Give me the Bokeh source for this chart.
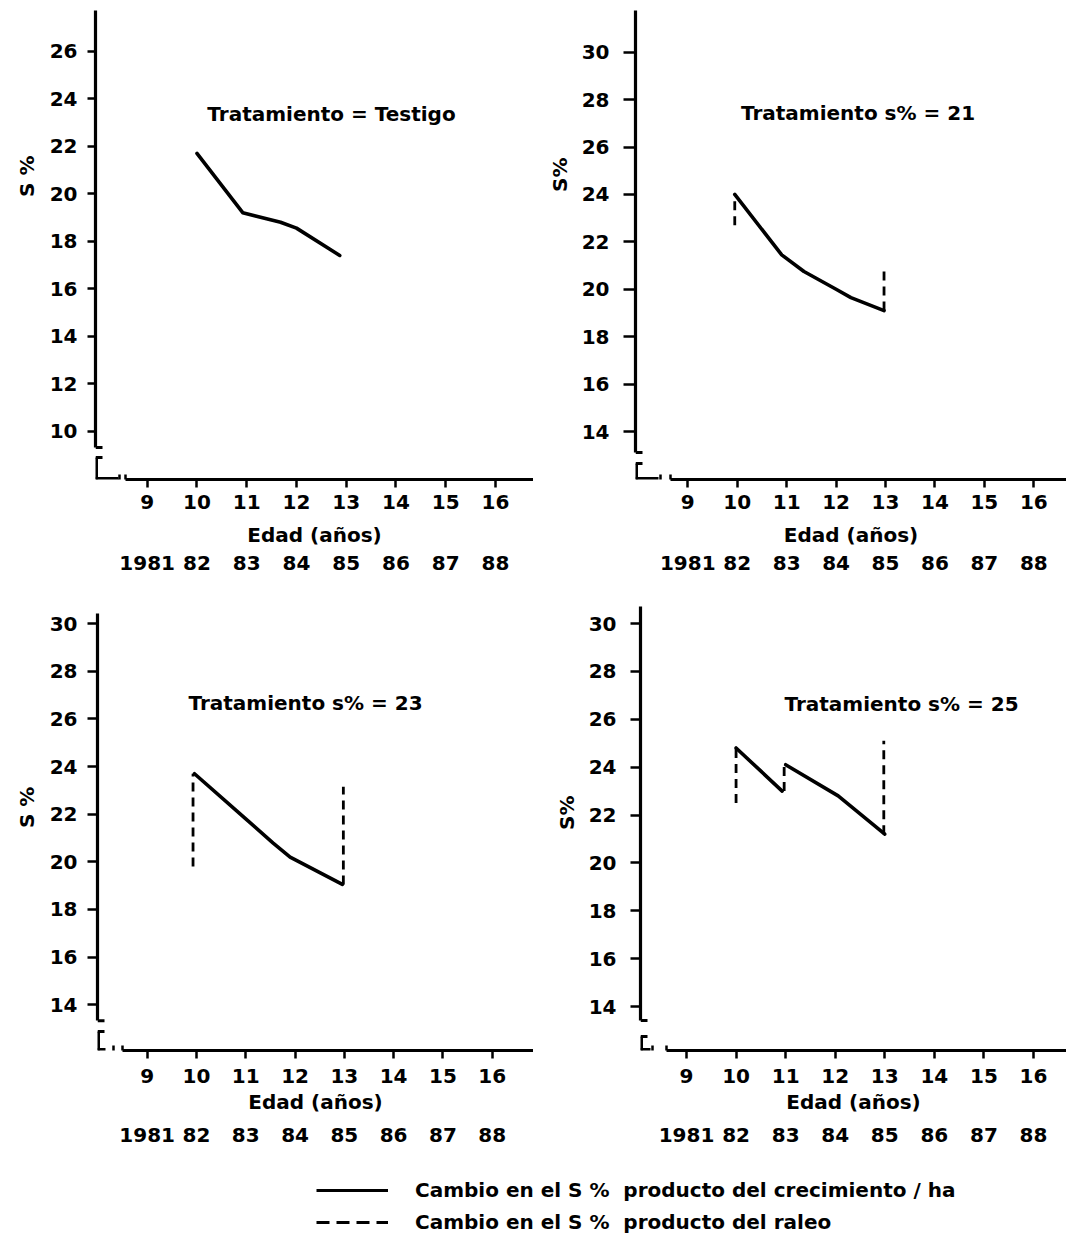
import math
from bokeh.plotting import figure
from bokeh.layouts import column, row
from bokeh.models import Range1d, FixedTicker, LinearAxis, Label, Arrow, Legend, LegendItem
from bokeh.embed import file_html
from bokeh.resources import INLINE

# ---------------- data ----------------
ages = [9, 10, 11, 12, 13, 14, 15, 16]
years = ["1981", "82", "83", "84", "85", "86", "87", "88"]
yticks_testigo = [10, 12, 14, 16, 18, 20, 22, 24, 26]
yticks_raleo = [14, 16, 18, 20, 22, 24, 26, 28, 30]

titles = ["Tratamiento = Testigo", "Tratamiento  s% = 21",
          "Tratamiento s% = 23", "Tratamiento s% = 25"]
ylabels = ["S %", "S%", "S %", "S%"]
x_label = "Edad (años)"

# Testigo: growth only
testigo_grow_x = [[10.0, 10.92, 11.68, 12.0, 12.87]]
testigo_grow_y = [[21.7, 19.2, 18.8, 18.55, 17.4]]
testigo_thin_x = []
testigo_thin_lo = []
testigo_thin_hi = []

# s% = 21
s21_grow_x = [[9.95, 10.9, 11.35, 12.0, 12.3, 12.97]]
s21_grow_y = [[24.0, 21.45, 20.75, 20.0, 19.65, 19.1]]
s21_thin_x = [9.95, 12.97]
s21_thin_lo = [22.7, 19.1]
s21_thin_hi = [24.0, 21.0]

# s% = 23
s23_grow_x = [[9.96, 11.0, 11.55, 11.9, 12.96]]
s23_grow_y = [[23.7, 21.8, 20.8, 20.2, 19.05]]
s23_thin_x = [9.93, 12.98]
s23_thin_lo = [19.8, 19.05]
s23_thin_hi = [23.7, 23.15]

# s% = 25
s25_grow_x = [[10.0, 10.93], [11.0, 12.06, 13.0]]
s25_grow_y = [[24.8, 23.0], [24.1, 22.8, 21.2]]
s25_thin_x = [10.0, 10.97, 12.98]
s25_thin_lo = [22.5, 23.0, 21.2]
s25_thin_hi = [24.8, 24.1, 25.1]

legend_labels = ["Cambio en el S %  producto del crecimiento / ha",
                 "Cambio en el S %  producto del raleo"]

# ---------------- styling / geometry ----------------
FONT = "DejaVu Sans"
BLACK = "black"

geo = [
    dict(W=533, H=590, L=95, T=8, B=479, x9=146.7, x16=495.0, yhi=(26, 50.7), ylo=(10, 430.7),
         ytop=2, ybot=32, tbar=22, llen=23, tick1=24, xstart=30,
         ytick_out=8, ystand=10, xs=7, als=11, s2=6, ylab_stand=19,
         title=(331, 113), ylab_y=155),
    dict(W=533, H=590, L=102, T=8, B=479, x9=154.3, x16=500.3, yhi=(30, 51.7), ylo=(14, 431.0),
         ytop=2, ybot=27, tbar=16, llen=23, tick1=25, xstart=35,
         ytick_out=12, ystand=14, xs=7, als=11, s2=6, ylab_stand=18,
         title=(328, 112), ylab_y=157),
    dict(W=533, H=570, L=97, T=15, B=462, x9=146.7, x16=491.7, yhi=(30, 33.3), ylo=(14, 416.0),
         ytop=8, ybot=30, tbar=19, llen=8, tick1=16, xstart=25,
         ytick_out=10, ystand=10, xs=10, als=4, s2=11, ylab_stand=19,
         title=(305, 113), ylab_y=197),
    dict(W=533, H=570, L=107, T=15, B=460, x9=153.0, x16=500.0, yhi=(30, 33.0), ylo=(14, 416.0),
         ytop=1, ybot=30, tbar=14, llen=10, tick1=12, xstart=26,
         ytick_out=10, ystand=14, xs=10, als=4, s2=11, ylab_stand=18,
         title=(368, 113), ylab_y=205),
]


def make_panel(g, yticks, title, ylabel, grow_x, grow_y, thin_x, thin_lo, thin_hi):
    W, H, L, T, B = g["W"], g["H"], g["L"], g["T"], g["B"]
    R = W
    xppu = (g["x16"] - g["x9"]) / 7.0
    x0 = 9 + (L - g["x9"]) / xppu
    x1 = 9 + (R - g["x9"]) / xppu
    (vhi, phi), (vlo, plo) = g["yhi"], g["ylo"]
    yppu = (plo - phi) / (vhi - vlo)
    y1 = vhi + (phi - T) / yppu
    y0 = vlo - (B - plo) / yppu

    def fx(px):
        return x0 + (px - L) / xppu

    def fy(py):
        return y1 - (py - T) / yppu

    p = figure(width=W, height=H, x_range=Range1d(x0, x1), y_range=Range1d(y0, y1),
               toolbar_location=None, output_backend="svg",
               min_border_left=L, min_border_right=0, min_border_top=T,
               min_border_bottom=H - B, outline_line_color=None)
    p.grid.visible = False

    xa = p.xaxis[0]
    xa.ticker = FixedTicker(ticks=ages)
    xa.bounds = (fx(L + g["xstart"]), x1)
    xa.axis_line_width = 3.2
    xa.major_tick_line_width = 2.5
    xa.major_tick_out = 8
    xa.major_tick_in = 0
    xa.minor_tick_line_color = None
    xa.major_label_standoff = g["xs"]
    xa.major_label_text_font = FONT
    xa.major_label_text_font_style = "bold"
    xa.major_label_text_font_size = "20px"
    xa.major_label_text_color = BLACK
    xa.axis_label = x_label
    xa.axis_label_standoff = g["als"]
    xa.axis_label_text_font = FONT
    xa.axis_label_text_font_style = "bold"
    xa.axis_label_text_font_size = "20px"
    xa.axis_label_text_color = BLACK

    ya = p.yaxis[0]
    ya.ticker = FixedTicker(ticks=yticks)
    ya.bounds = (fy(B - g["ybot"]), fy(T + g["ytop"]))
    ya.axis_line_width = 3.2
    ya.major_tick_line_width = 2.5
    ya.major_tick_out = g["ytick_out"]
    ya.major_tick_in = 0
    ya.minor_tick_line_color = None
    ya.major_label_standoff = g["ystand"]
    ya.major_label_text_font = FONT
    ya.major_label_text_font_style = "bold"
    ya.major_label_text_font_size = "20px"
    ya.major_label_text_color = BLACK

    # second bottom axis: calendar years
    yr_axis = LinearAxis(ticker=FixedTicker(ticks=ages),
                         major_label_overrides={a: y for a, y in zip(ages, years)},
                         axis_line_color=None, major_tick_line_color=None,
                         minor_tick_line_color=None, major_tick_out=0, major_tick_in=0,
                         major_label_standoff=g["s2"],
                         major_label_text_font=FONT, major_label_text_font_style="bold",
                         major_label_text_font_size="20px", major_label_text_color=BLACK)
    p.add_layout(yr_axis, "below")

    # second left axis: carries the rotated "S %" label at the wanted height
    ylab_val = round(fy(g["ylab_y"]), 4)
    lab_axis = LinearAxis(ticker=FixedTicker(ticks=[ylab_val]),
                          major_label_overrides={ylab_val: ylabel},
                          major_label_orientation=math.pi / 2,
                          axis_line_color=None, major_tick_line_color=None,
                          minor_tick_line_color=None, major_tick_out=0, major_tick_in=0,
                          major_label_standoff=g["ylab_stand"],
                          major_label_text_font=FONT, major_label_text_font_style="bold",
                          major_label_text_font_size="20px", major_label_text_color=BLACK)
    p.add_layout(lab_axis, "left")

    # axis break decorations
    def seg(xa_, ya_, xb_, yb_, w=3):
        p.add_layout(Arrow(start=None, end=None, x_start=xa_, y_start=ya_, x_end=xb_, y_end=yb_,
                           line_width=w, line_color=BLACK))

    ybot = B - g["ybot"]
    tbar = B - g["tbar"]
    seg(fx(L), fy(ybot), fx(L + 7), fy(ybot))
    seg(fx(L), fy(tbar), fx(L + 7), fy(tbar))
    seg(fx(L + 1), fy(tbar), fx(L + 1), fy(B))
    seg(fx(L), fy(B - 1), fx(L + g["llen"]), fy(B - 1))
    seg(fx(L + g["tick1"]), fy(B - 5), fx(L + g["tick1"]), fy(B + 5), 2.5)
    seg(fx(L + g["xstart"]), fy(B - 5), fx(L + g["xstart"]), fy(B + 5), 2.5)

    # data
    p.multi_line(xs=grow_x, ys=grow_y, line_color=BLACK, line_width=3.6,
                 line_join="round", line_cap="round")
    if thin_x:
        p.segment(x0=thin_x, y0=thin_lo, x1=thin_x, y1=thin_hi, line_color=BLACK,
                  line_width=2.8, line_dash="9 6")

    p.add_layout(Label(x=fx(g["title"][0]), y=fy(g["title"][1]), text=title,
                       text_align="center", text_baseline="middle", text_font=FONT,
                       text_font_style="bold", text_font_size="20px", text_color=BLACK))
    return p


p1 = make_panel(geo[0], yticks_testigo, titles[0], ylabels[0], testigo_grow_x, testigo_grow_y,
                testigo_thin_x, testigo_thin_lo, testigo_thin_hi)
p2 = make_panel(geo[1], yticks_raleo, titles[1], ylabels[1], s21_grow_x, s21_grow_y,
                s21_thin_x, s21_thin_lo, s21_thin_hi)
p3 = make_panel(geo[2], yticks_raleo, titles[2], ylabels[2], s23_grow_x, s23_grow_y,
                s23_thin_x, s23_thin_lo, s23_thin_hi)
p4 = make_panel(geo[3], yticks_raleo, titles[3], ylabels[3], s25_grow_x, s25_grow_y,
                s25_thin_x, s25_thin_lo, s25_thin_hi)

# legend panel: its key lines use real series, kept outside the visible range
leg = figure(width=1066, height=81, x_range=Range1d(0, 1), y_range=Range1d(0, 1),
             toolbar_location=None, output_backend="svg", x_axis_location=None,
             y_axis_location=None, min_border=0, outline_line_color=None)
leg.grid.visible = False
r1 = leg.line(x=s21_grow_x[0], y=s21_grow_y[0], line_color=BLACK, line_width=3)
r2 = leg.line(x=s21_thin_x, y=s21_thin_hi, line_color=BLACK, line_width=3, line_dash="13 7")
lg = Legend(items=[LegendItem(label=legend_labels[0], renderers=[r1]),
                   LegendItem(label=legend_labels[1], renderers=[r2])],
            location=(316, 7), orientation="vertical", glyph_width=72, glyph_height=24,
            label_height=24, label_standoff=27, spacing=8, padding=0, margin=0,
            border_line_color=None, background_fill_alpha=0,
            label_text_font=FONT, label_text_font_style="bold",
            label_text_font_size="20px", label_text_color=BLACK)
leg.add_layout(lg)

layout = column(row(p1, p2), row(p3, p4), leg)

with open("out.html", "w") as f:
    f.write(file_html(layout, INLINE))
